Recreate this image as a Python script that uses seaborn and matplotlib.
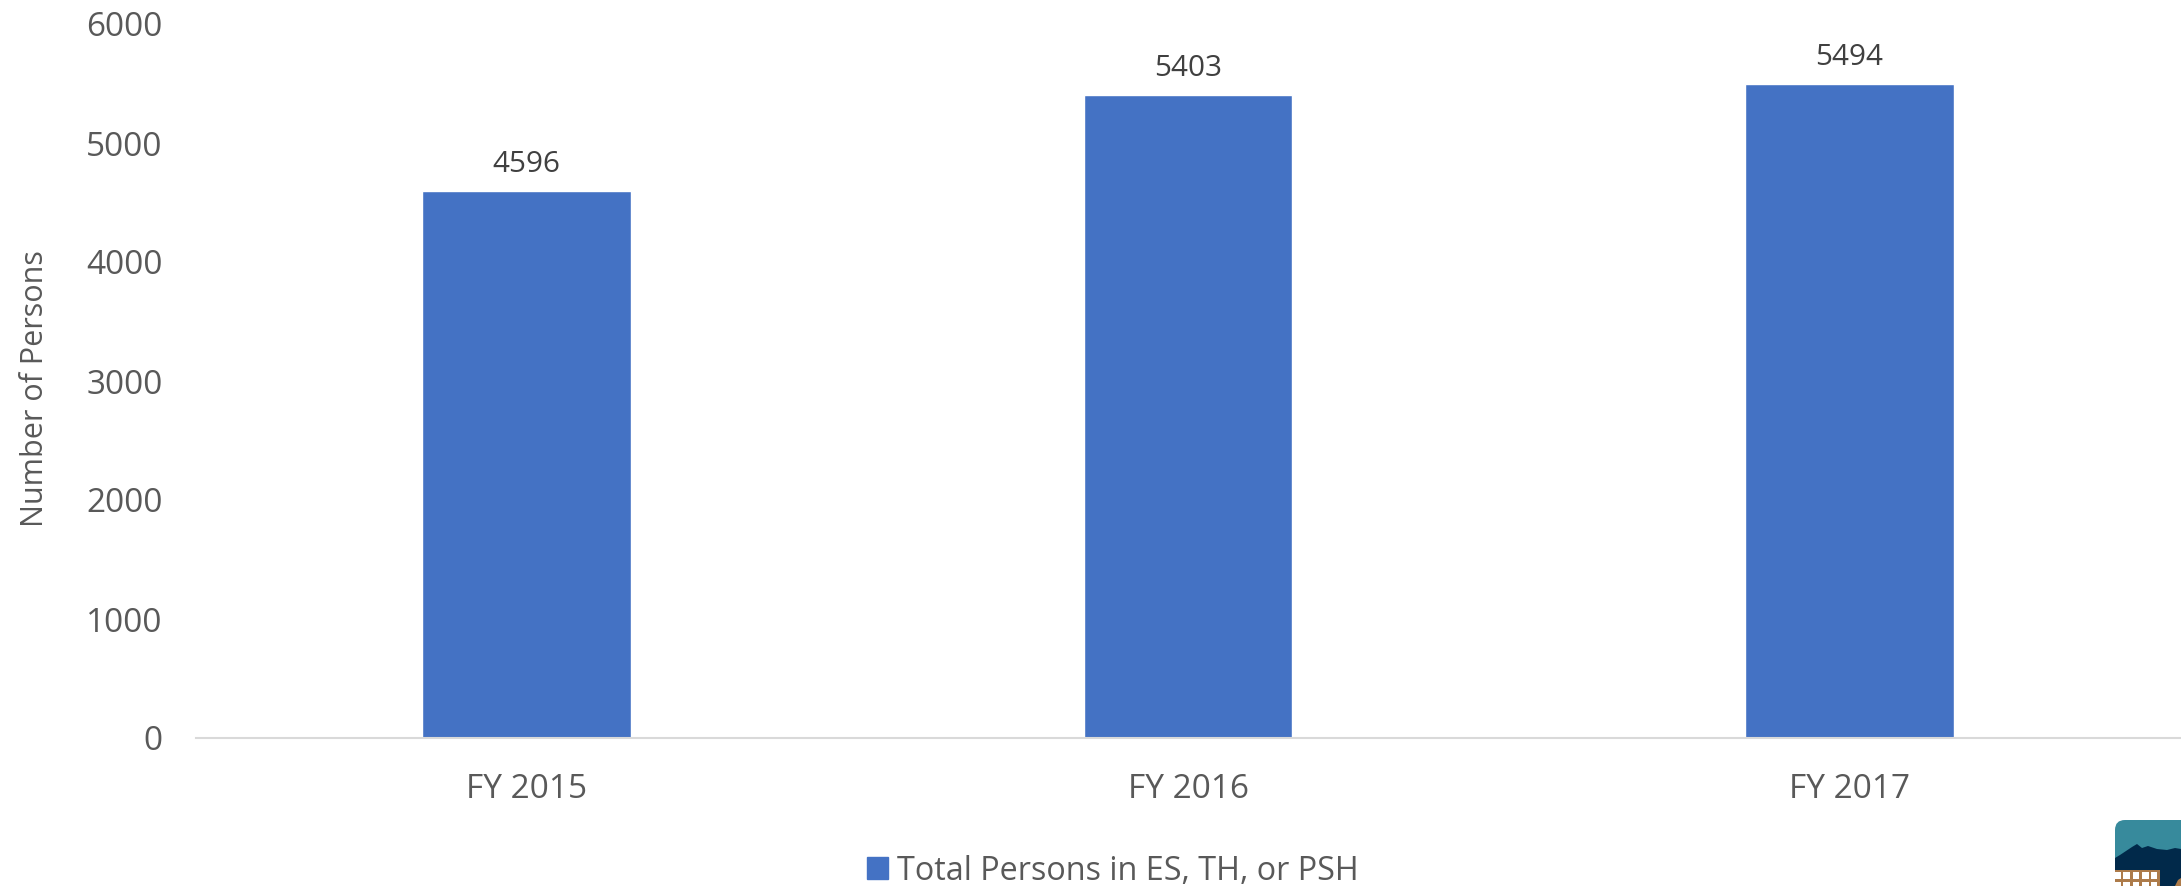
import matplotlib
matplotlib.use("Agg")
import matplotlib.pyplot as plt
import numpy as np
import pandas as pd
import seaborn as sns
from matplotlib.patches import FancyBboxPatch, Patch, Polygon, Rectangle

years = ["FY 2015", "FY 2016", "FY 2017"]
persons = [4596, 5403, 5494]
y_ticks = [0, 1000, 2000, 3000, 4000, 5000, 6000]
series_name = "Total Persons in ES, TH, or PSH"

W, H = 2181, 886
BAR = "#4472C4"
GREY = "#595959"

sns.set_theme(style="white")
plt.rcParams["font.family"] = ["Open Sans", "DejaVu Sans"]

df = pd.DataFrame({"year": years, "persons": persons})

fig = plt.figure(figsize=(W / 100, H / 100), dpi=100, facecolor="white")
ax = fig.add_axes([196 / W, 1 - 738 / H, (2180 - 196) / W, (738 - 24) / H])
sns.barplot(data=df, x="year", y="persons", color=BAR, width=0.316, saturation=1, ax=ax)
ax.set_xlim(-0.5, 2.5)
ax.set_ylim(0, 6000)
ax.set_yticks(y_ticks)
ax.set_xlabel("")
ax.set_ylabel("Number of Persons", fontsize=22, color=GREY)
ax.yaxis.set_label_coords(-0.0735, 0.49)
ax.tick_params(axis="y", length=0, labelsize=24, labelcolor=GREY, pad=24)
ax.tick_params(axis="x", length=0, labelsize=24, labelcolor=GREY, pad=25)
sns.despine(ax=ax, left=True, top=True, right=True)
ax.spines["bottom"].set_color("#D9D9D9")
ax.spines["bottom"].set_linewidth(1.5)

ax.bar_label(ax.containers[0], fontsize=21.4, color="#404040", padding=9)

fig.legend(handles=[Patch(color=BAR, label=series_name)], loc="center",
           bbox_to_anchor=(1113 / W, 1 - 871 / H), frameon=False, fontsize=23.3,
           labelcolor=GREY, handlelength=0.65, handleheight=0.65, handletextpad=0.3)

# logo cropped by the bottom right corner
logo = fig.add_axes([0, 0, 1, 1], zorder=5)
logo.set_xlim(0, W)
logo.set_ylim(H, 0)
logo.axis("off")
logo.patch.set_alpha(0)
box = FancyBboxPatch((2115, 820), 100, 100, boxstyle="round,pad=0,rounding_size=10",
                     fc="#378A9C", ec="none")
logo.add_patch(box)
skyline = Polygon([(2115, 858), (2120, 855), (2126, 851), (2132, 847), (2137, 844),
                   (2142, 848), (2148, 846), (2157, 849), (2167, 850), (2175, 848),
                   (2181, 849), (2181, 886), (2115, 886)], fc="#01294A", ec="none")
logo.add_patch(skyline)
logo.add_patch(Rectangle((2115, 870), 45, 16, fc="#AD7B4A", ec="none"))
for x0, x1 in [(2115, 2121), (2123, 2130), (2133, 2139), (2142, 2149), (2151, 2157)]:
    for y in (872, 882):
        logo.add_patch(Rectangle((x0, y), x1 - x0, 7, fc="white", ec="none"))
logo.add_patch(Polygon([(2175, 886), (2178, 880), (2181, 878), (2181, 886)], fc="#AD7B4A", ec="none"))

fig.savefig("out.png", dpi=100)
